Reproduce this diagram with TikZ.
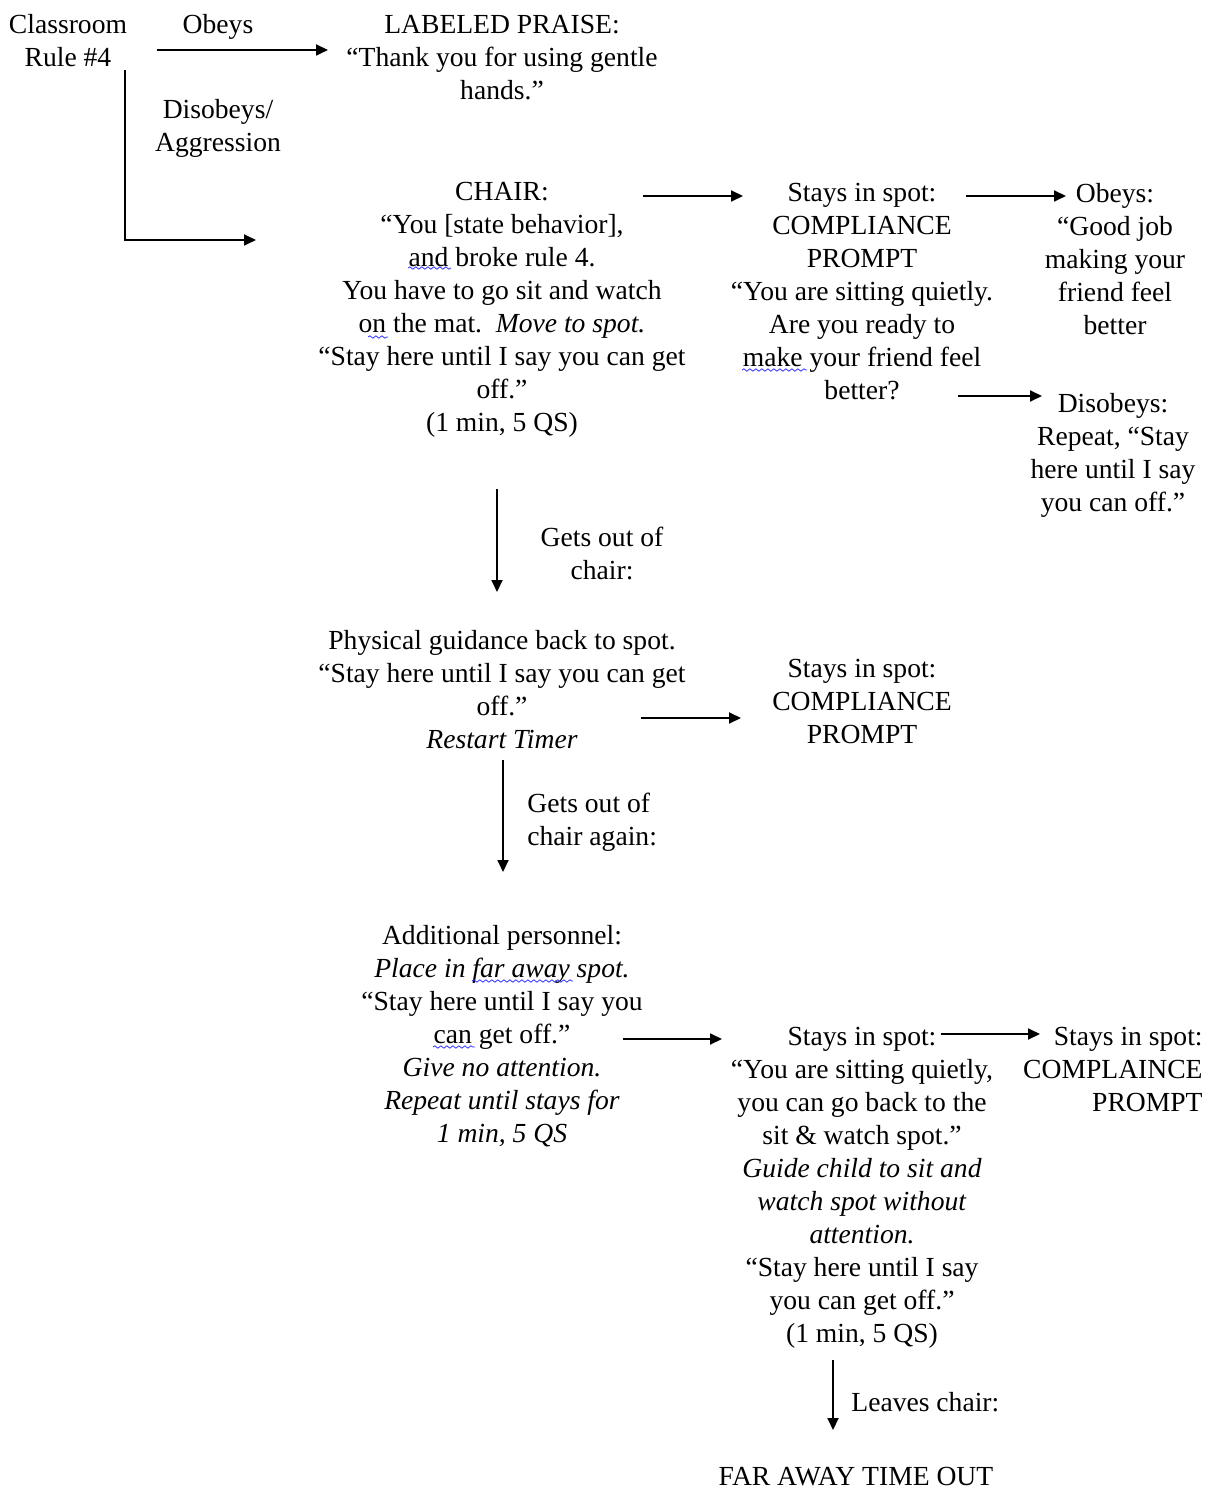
\documentclass[tikz,border=0pt]{standalone}
\usepackage{fontspec}
\setmainfont{Liberation Serif}
\usetikzlibrary{arrows.meta,decorations.pathmorphing}

\begin{document}
\begin{tikzpicture}[x=0.5pt,y=-0.5pt,>={Triangle[length=6pt,width=5.5pt]},
  txt/.style={align=center,inner sep=0pt,anchor=north,font=\fontsize{13.8}{16.5}\selectfont},
  flow/.style={->,line width=0.9pt},
  squiggle/.style={blue!80!white,line width=0.4pt,decorate,decoration={snake,amplitude=0.6pt,segment length=3pt}}]
\useasboundingbox (0,0) rectangle (1212,1491);

% Rule and first branch
\node[txt] (rule) at (68,14) {Classroom\\Rule \#4};
\node[txt] (obeysLbl) at (218,14) {Obeys};
\node[txt] (disobeysLbl) at (218,99) {Disobeys/\\Aggression};
\node[txt] (praise) at (502,15) {LABELED PRAISE:\\“Thank you for using gentle\\hands.”};

% Chair
\node[txt] (chair) at (502,182) {CHAIR:\\“You [state behavior],\\and broke rule 4.\\You have to go sit and watch\\on the mat.\ \ \textit{Move to spot.}\\“Stay here until I say you can get\\off.”\\(1 min, 5 QS)};
\node[txt] (stay1) at (862,183) {Stays in spot:\\COMPLIANCE\\PROMPT\\“You are sitting quietly.\\Are you ready to\\make your friend feel\\better?};
\node[txt] (obeys) at (1115,183) {Obeys:\\“Good job\\making your\\friend feel\\better};
\node[txt] (disobeys) at (1113,393) {Disobeys:\\Repeat, “Stay\\here until I say\\you can off.”};

% Out of chair
\node[txt] (gets1) at (602,527) {Gets out of\\chair:};
\node[txt] (guide) at (502,630) {Physical guidance back to spot.\\“Stay here until I say you can get\\off.”\\\textit{Restart Timer}};
\node[txt] (stay2) at (862,659) {Stays in spot:\\COMPLIANCE\\PROMPT};
\node[txt,anchor=north west,align=left] (gets2) at (527,793) {Gets out of\\chair again:};

% Additional personnel
\node[txt] (personnel) at (502,925) {Additional personnel:\\\textit{Place in far away spot.}\\“Stay here until I say you\\can get off.”\\\textit{Give no attention.}\\\textit{Repeat until stays for}\\\textit{1 min, 5 QS}};
\node[txt] (stay3) at (862,1027) {Stays in spot:\\“You are sitting quietly,\\you can go back to the\\sit \& watch spot.”\\\textit{Guide child to sit and}\\\textit{watch spot without}\\\textit{attention.}\\“Stay here until I say\\you can get off.”\\(1 min, 5 QS)};
\node[txt,anchor=north east,align=right] (stay4) at (1203,1027) {Stays in spot:\\COMPLAINCE\\PROMPT};
\node[txt,anchor=north west,align=left] (leaves) at (851,1392) {Leaves chair:};
\node[txt] (faraway) at (856,1467) {FAR AWAY TIME OUT};

% Arrow ends
\coordinate (obeysS) at (157,50);
\coordinate (obeysE) at (328,50);
\coordinate (disS) at (125,70);
\coordinate (disE) at (256,240);
\coordinate (chairE) at (643,196);
\coordinate (stay1W) at (743,196);
\coordinate (stay1E) at (966,196);
\coordinate (obeysW) at (1066,196);
\coordinate (stay1SE) at (958,396);
\coordinate (disobeysW) at (1042,396);
\coordinate (chairS) at (497,489);
\coordinate (guideN) at (497,592);
\coordinate (guideE) at (641,718);
\coordinate (stay2W) at (741,718);
\coordinate (guideS) at (503,760);
\coordinate (personnelN) at (503,872);
\coordinate (personnelE) at (623,1039);
\coordinate (stay3W) at (722,1039);
\coordinate (stay3E) at (941,1034);
\coordinate (stay4W) at (1040,1034);
\coordinate (stay3S) at (833,1360);
\coordinate (farawayN) at (833,1430);

% Draw arrows
\draw[flow] (obeysS) -- (obeysE);
\draw[flow] (disS) |- (disE);
\draw[flow] (chairE) -- (stay1W);
\draw[flow] (stay1E) -- (obeysW);
\draw[flow] (stay1SE) -- (disobeysW);
\draw[flow] (chairS) -- (guideN);
\draw[flow] (guideE) -- (stay2W);
\draw[flow] (guideS) -- (personnelN);
\draw[flow] (personnelE) -- (stay3W);
\draw[flow] (stay3E) -- (stay4W);
\draw[flow] (stay3S) -- (farawayN);

% Spelling marks
\draw[squiggle] (408,268) -- (451,268);
\draw[squiggle] (368,337) -- (388,337);
\draw[squiggle] (742,370) -- (807,370);
\draw[squiggle] (472,981) -- (573,981);
\draw[squiggle] (433,1047) -- (475,1047);
\end{tikzpicture}
\end{document}
